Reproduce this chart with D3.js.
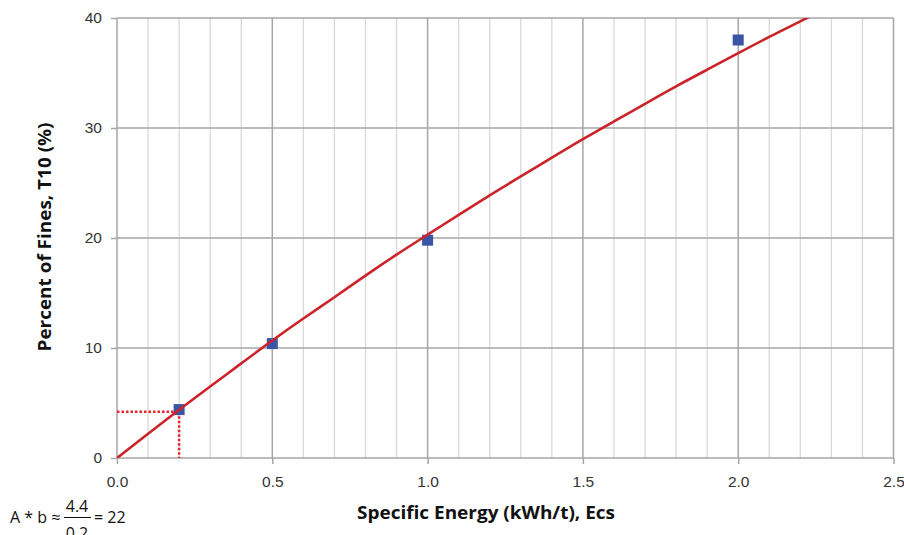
<!DOCTYPE html>
<html>
<head>
<meta charset="utf-8">
<script src="https://cdn.jsdelivr.net/npm/d3@7"></script>
<style>
  body { margin: 0; background: #fff; }
  svg { display: block; font-family: "Open Sans", "Liberation Sans", sans-serif; }
</style>
</head>
<body>
<div class="chart"></div>
<script>
// measured points (Ecs, T10)
const pointsE = [0.2, 0.5, 1.0, 2.0];
const pointsT = [4.4, 10.4, 19.8, 38.0];

// fitted curve
const curveE = [0, 0.1, 0.2, 0.3, 0.4, 0.5, 0.6, 0.7, 0.8, 0.9, 1.0, 1.1, 1.2, 1.3, 1.4, 1.5, 1.6, 1.7, 1.8, 1.9, 2.0, 2.1, 2.2, 2.3];
const curveT = [0, 2.2, 4.4, 6.5, 8.6, 10.7, 12.7, 14.6, 16.6, 18.5, 20.3, 22.1, 23.9, 25.6, 27.3, 29.0, 30.6, 32.2, 33.8, 35.3, 36.8, 38.3, 39.7, 41.1];

const xTicks = [0, 0.5, 1.0, 1.5, 2.0, 2.5];
const xMinor = d3.range(0, 2.51, 0.1);
const yTicks = [0, 10, 20, 30, 40];

// dotted guide at the first point
const guideE = 0.2;
const guideT = 4.2;

var cfg = {
  width: 904,
  height: 535
};

var scale = {
  x: d3.scaleLinear().domain([0, 2.5]).range([117, 893.5]),
  y: d3.scaleLinear().domain([0, 40]).range([458, 18])
};

var svg = d3.select(".chart").append("svg")
  .attr("width", cfg.width)
  .attr("height", cfg.height);

svg.append("defs").append("clipPath").attr("id", "plot-clip")
  .append("rect")
  .attr("x", scale.x(0)).attr("y", scale.y(40))
  .attr("width", scale.x(2.5) - scale.x(0))
  .attr("height", scale.y(0) - scale.y(40));

// minor vertical grid
svg.append("g").selectAll("line")
  .data(xMinor.filter(d => Math.abs(d * 2 - Math.round(d * 2)) > 0.01))
  .enter().append("line")
  .attr("x1", d => scale.x(d)).attr("x2", d => scale.x(d))
  .attr("y1", scale.y(0)).attr("y2", scale.y(40))
  .attr("stroke", "#d9d9d9")
  .attr("stroke-width", 1.3);

// major vertical grid
svg.append("g").selectAll("line")
  .data(xTicks)
  .enter().append("line")
  .attr("x1", d => scale.x(d)).attr("x2", d => scale.x(d))
  .attr("y1", scale.y(0)).attr("y2", scale.y(40))
  .attr("stroke", "#a6a6a6")
  .attr("stroke-width", 1.5);

// horizontal grid
svg.append("g").selectAll("line")
  .data(yTicks)
  .enter().append("line")
  .attr("x1", scale.x(0)).attr("x2", scale.x(2.5))
  .attr("y1", d => scale.y(d)).attr("y2", d => scale.y(d))
  .attr("stroke", "#a6a6a6")
  .attr("stroke-width", 1.5);

// x axis
var xAxis = svg.append("g")
  .attr("transform", `translate(0, ${scale.y(0)})`)
  .call(d3.axisBottom(scale.x).tickValues(xTicks).tickFormat(d3.format(".1f")).tickSize(6).tickPadding(12));
xAxis.select(".domain").remove();
xAxis.selectAll("line").attr("stroke", "#a6a6a6").attr("stroke-width", 1.5);
xAxis.selectAll("text").attr("fill", "#333").style("font-size", "15.5px");

// y axis
var yAxis = svg.append("g")
  .attr("transform", `translate(${scale.x(0)}, 0)`)
  .call(d3.axisLeft(scale.y).tickValues(yTicks).tickSize(6).tickPadding(9));
yAxis.select(".domain").remove();
yAxis.selectAll("line").attr("stroke", "#a6a6a6").attr("stroke-width", 1.5);
yAxis.selectAll("text").attr("fill", "#333").style("font-size", "15.5px");

// dotted guides
var guides = svg.append("g")
  .attr("stroke", "#e8262d")
  .attr("stroke-width", 2.5)
  .attr("stroke-dasharray", "2.5,2");

// measured points
svg.append("g").selectAll("rect")
  .data(pointsE.map((e, i) => ({e: e, t: pointsT[i]})))
  .enter().append("rect")
  .attr("x", d => scale.x(d.e) - 5.5)
  .attr("y", d => scale.y(d.t) - 5.5)
  .attr("width", 11).attr("height", 11)
  .attr("fill", "#3b55a5");

guides.append("line")
  .attr("x1", scale.x(0)).attr("x2", scale.x(guideE))
  .attr("y1", scale.y(guideT)).attr("y2", scale.y(guideT));
guides.append("line")
  .attr("x1", scale.x(guideE)).attr("x2", scale.x(guideE))
  .attr("y1", scale.y(guideT)).attr("y2", scale.y(0));

// fitted curve
var line = d3.line()
  .x((d, i) => scale.x(curveE[i]))
  .y(d => scale.y(d))
  .curve(d3.curveBasis);

svg.append("path")
  .attr("clip-path", "url(#plot-clip)")
  .attr("d", line(curveT))
  .attr("fill", "none")
  .attr("stroke", "#cc2229")
  .attr("stroke-width", 2.6);

// axis titles
svg.append("text")
  .attr("x", 486).attr("y", 519)
  .attr("text-anchor", "middle")
  .attr("font-weight", "bold")
  .attr("font-size", "17px")
  .attr("fill", "#111")
  .attr("textLength", 258)
  .attr("lengthAdjust", "spacingAndGlyphs")
  .text("Specific Energy (kWh/t), Ecs");

svg.append("text")
  .attr("transform", `translate(51, 237) rotate(-90)`)
  .attr("text-anchor", "middle")
  .attr("font-weight", "bold")
  .attr("font-size", "17px")
  .attr("fill", "#111")
  .attr("textLength", 229)
  .attr("lengthAdjust", "spacingAndGlyphs")
  .text("Percent of Fines, T10 (%)");

// formula
var f = svg.append("g").attr("fill", "#111").attr("font-size", "16px");
f.append("text").attr("x", 10).attr("y", 523).text("A * b \u2248");
f.append("text").attr("x", 77).attr("y", 512).attr("text-anchor", "middle").text("4.4");
f.append("line")
  .attr("x1", 64).attr("x2", 91)
  .attr("y1", 517.5).attr("y2", 517.5)
  .attr("stroke", "#111").attr("stroke-width", 1);
f.append("text").attr("x", 77).attr("y", 539).attr("text-anchor", "middle").text("0.2");
f.append("text").attr("x", 94).attr("y", 523).text("= 22");
</script>
</body>
</html>
